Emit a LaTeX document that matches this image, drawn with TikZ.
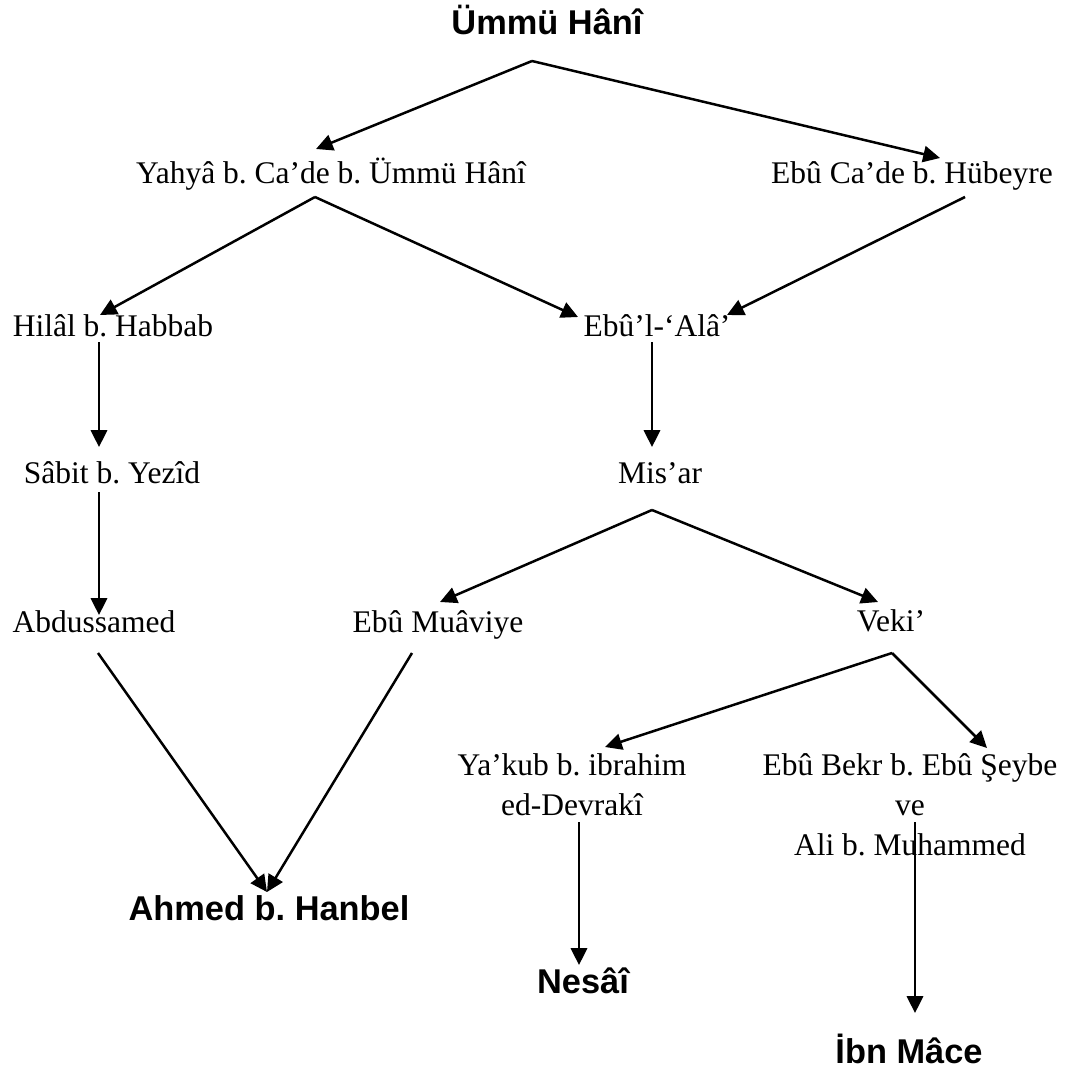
\documentclass[tikz,border=0pt]{standalone}
\usepackage{fontspec}
\setmainfont{Liberation Serif}
\newfontfamily\chieffont{Liberation Sans}
\usetikzlibrary{arrows.meta}
\frenchspacing

\begin{document}
\begin{tikzpicture}[x=0.381pt, y=-0.381pt, font=\fontsize{12}{15.2}\selectfont]
    \tikzset{
        person/.style={anchor=base, inner sep=0pt, align=center},
        chief/.style={person, font=\chieffont\bfseries\fontsize{13.1}{15}\selectfont},
        link/.style={line width=0.95pt, -{Triangle[length=6.4pt,width=6.2pt]}}
    }
    \useasboundingbox (0,0) rectangle (1079,1079);

    % names (multi-line ones sit on their last line)
    \node[chief]  (ummu)    at (547,34)  {Ümmü Hânî};
    \node[person] (yahya)   at (331,183) {Yahyâ b. Ca’de b. Ümmü Hânî};
    \node[person] (ebucade) at (912,183) {Ebû Ca’de b. Hübeyre};
    \node[person] (hilal)   at (113,336) {Hilâl b. Habbab};
    \node[person] (ebulala) at (657,336) {Ebû’l-‘Alâ’};
    \node[person] (sabit)   at (112,483) {Sâbit b. Yezîd};
    \node[person] (misar)   at (660,483) {Mis’ar};
    \node[person] (abdus)   at (94,632)  {Abdussamed};
    \node[person] (muaviye) at (438,632) {Ebû Muâviye};
    \node[person] (veki)    at (891,631) {Veki’};
    \node[person] (yakub)   at (572,815) {Ya’kub b. ibrahim\\ed-Devrakî};
    \node[person] (ebubekr) at (910,855) {Ebû Bekr b. Ebû Şeybe\\ve\\Ali b. Muhammed};
    \node[chief]  (ahmed)   at (269,920) {Ahmed b. Hanbel};
    \node[chief]  (nesai)   at (583,993) {Nesâî};
    \node[chief]  (ibnmace) at (909,1063) {İbn Mâce};

    % fork points and arrow tips
    \coordinate (ummuF)  at (532,61);
    \coordinate (yahyaF) at (315,197);
    \coordinate (misarF) at (652,510);
    \coordinate (vekiF)  at (892,653);

    \draw[link] (ummuF) -- (316,149);
    \draw[link] (ummuF) -- (940,158);
    \draw[link] (yahyaF) -- (100,315);
    \draw[link] (yahyaF) -- (578,317);
    \draw[link] (965,197) -- (727,315);
    \draw[link] (99,342) -- (99,447);
    \draw[link] (652,342) -- (652,447);
    \draw[link] (99,492) -- (99,615);
    \draw[link] (misarF) -- (440,602);
    \draw[link] (misarF) -- (878,602);
    \draw[link] (vekiF) -- (605,747);
    \draw[link] (vekiF) -- (987,748);
    \draw[link] (98,653) -- (267,892);
    \draw[link] (412,653) -- (267,892);
    \draw[link] (579,822) -- (579,965);
    \draw[link] (915,822) -- (915,1013);
\end{tikzpicture}
\end{document}
